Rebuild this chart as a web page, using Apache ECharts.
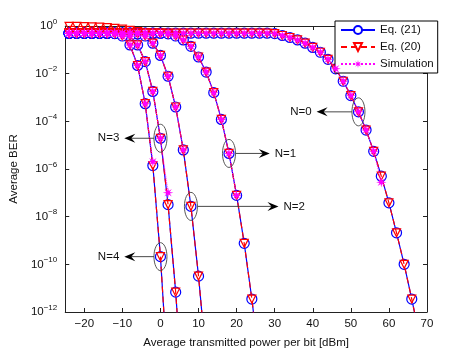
<!DOCTYPE html>
<html>
<head>
<meta charset="utf-8">
<script src="https://cdn.jsdelivr.net/npm/echarts@6/dist/echarts.min.js"></script>
<style>
  html, body { margin: 0; padding: 0; background: #fff; }
  #chart { width: 471px; height: 354px; }
</style>
</head>
<body>
<div id="chart"></div>
<script>
// Transmit power grids (dBm), one per curve
const powerN0 = [-24, -22, -20, -18, -16, -14, -12, -10, -8, -6, -4, -2, 0, 2, 4, 6, 8, 10, 12, 14, 16, 18, 20, 22, 24, 26, 28, 30, 32, 34, 36, 38, 40, 42, 44, 46, 48, 50, 52, 54, 56, 58, 60, 62, 64, 66, 68]
const powerN1 = [-24, -22, -20, -18, -16, -14, -12, -10, -8, -6, -4, -2, 0, 2, 4, 6, 8, 10, 12, 14, 16, 18, 20, 22, 24, 26]
const powerN2 = [-24, -22, -20, -18, -16, -14, -12, -10, -8, -6, -4, -2, 0, 2, 4, 6, 8, 10, 12]
const powerN3 = [-24, -22, -20, -18, -16, -14, -12, -10, -8, -6, -4, -2, 0, 2, 4, 6]
const powerN4 = [-24, -22, -20, -18, -16, -14, -12, -10, -8, -6, -4, -2, 0, 2]

// Eq. (21) BER values
const berN0 = [0.5, 0.5, 0.5, 0.5, 0.5, 0.5, 0.5, 0.5, 0.5, 0.5, 0.5, 0.5, 0.5, 0.5, 0.5, 0.5, 0.5, 0.5, 0.5, 0.5, 0.5, 0.5, 0.5, 0.5, 0.5, 0.5, 0.5,
    0.48, 0.40, 0.33, 0.26, 0.19, 0.126, 0.079, 0.04, 0.016, 4.8e-3, 1.2e-3, 2.5e-4, 4.3e-5, 5.5e-6, 5.0e-7, 3.8e-8, 2.1e-9, 1.0e-10, 3.5e-12, 1e-13]
const berN1 = [0.5, 0.5, 0.5, 0.5, 0.5, 0.5, 0.5, 0.5, 0.5, 0.5, 0.5, 0.5, 0.5,
    0.47, 0.38, 0.26, 0.14, 0.05, 0.0117, 1.6e-3, 1.2e-4, 4.5e-6, 7.8e-8, 7.6e-10, 3.5e-12, 8e-15]
const berN2 = [0.5, 0.5, 0.5, 0.5, 0.5, 0.5, 0.5, 0.5, 0.5,
    0.47, 0.38, 0.19, 0.058, 7.8e-3, 4.0e-4, 6.3e-6, 2.7e-8, 3.2e-11, 1e-14]
const berN3 = [0.5, 0.5, 0.5, 0.5, 0.5, 0.5, 0.5, 0.47, 0.38, 0.16, 0.032, 1.8e-3, 1.95e-5, 3.2e-8, 6.8e-12, 1.6e-16]
const berN4 = [0.5, 0.5, 0.5, 0.5, 0.5, 0.5, 0.48, 0.38, 0.16, 0.022, 5.5e-4, 1.4e-6, 2.1e-10, 1.3e-15]

// Eq. (20): same as Eq. (21) except the N=0 curve sits near 1 at low power
const eq20N0 = [0.97, 0.96, 0.94, 0.92, 0.89, 0.85, 0.8, 0.74, 0.66, 0.58, 0.52, 0.5, 0.5, 0.5, 0.5, 0.5, 0.5, 0.5, 0.5, 0.5, 0.5, 0.5, 0.5, 0.5, 0.5, 0.5, 0.5,
    0.48, 0.40, 0.33, 0.26, 0.19, 0.126, 0.079, 0.04, 0.016, 4.8e-3, 1.2e-3, 2.5e-4, 4.3e-5, 5.5e-6, 5.0e-7, 3.8e-8, 2.1e-9, 1.0e-10, 3.5e-12, 1e-13]

// Simulation (stops around 1e-7)
const simN0 = [0.5, 0.5, 0.5, 0.5, 0.5, 0.5, 0.5, 0.5, 0.5, 0.5, 0.5, 0.5, 0.5, 0.5, 0.5, 0.5, 0.5, 0.5, 0.5, 0.5, 0.5, 0.5, 0.5, 0.5, 0.5, 0.5, 0.5,
    0.48, 0.40, 0.33, 0.26, 0.19, 0.126, 0.079, 0.04, 0.016, 4.8e-3, 1.2e-3, 2.5e-4, 4.3e-5, 5.5e-6, 2.8e-7]
const simN1 = [0.5, 0.5, 0.5, 0.5, 0.5, 0.5, 0.5, 0.5, 0.5, 0.5, 0.5, 0.5, 0.5,
    0.47, 0.38, 0.26, 0.14, 0.05, 0.0117, 1.6e-3, 1.2e-4, 4.5e-6, 7.8e-8]
const simN2 = [0.5, 0.5, 0.5, 0.5, 0.5, 0.5, 0.5, 0.5, 0.5,
    0.47, 0.38, 0.19, 0.058, 7.8e-3, 4.0e-4, 6.3e-6]
const simN3 = [0.5, 0.5, 0.5, 0.5, 0.5, 0.5, 0.5, 0.47, 0.38, 0.16, 0.032, 1.8e-3, 1.95e-5, 1.0e-7]
const simN4 = [0.5, 0.5, 0.5, 0.5, 0.5, 0.5, 0.48, 0.38, 0.16, 0.022, 5.5e-4, 2.0e-6]

const xTicks = [-20, -10, 0, 10, 20, 30, 40, 50, 60, 70]
const yTicks = [1e-12, 1e-10, 1e-8, 1e-6, 1e-4, 1e-2, 1]

// Annotations: ellipse at (power, ber), arrow towards tipPower
const annotLabels = ['N=0', 'N=1', 'N=2', 'N=3', 'N=4']
const annotPower = [52, 18, 8, 0, 0]
const annotBer = [2.5e-4, 4.5e-6, 2.7e-8, 1.95e-5, 2.1e-10]
const annotTipPower = [41, 28.7, 31, -9.5, -9.5]

const FONT = 'Liberation Sans, Arial, sans-serif'
const STAR = 'path://M100 50 L66.6 56.9 L85.4 85.4 L56.9 66.6 L50 100 L43.1 66.6 L14.6 85.4 L33.4 56.9 L0 50 L33.4 43.1 L14.6 14.6 L43.1 33.4 L50 0 L56.9 33.4 L85.4 14.6 L66.6 43.1 Z'

const zip = (xs, ys) => ys.map((y, i) => [xs[i], y])

const curves = [
    { power: powerN0, eq21: berN0, eq20: eq20N0, sim: simN0 },
    { power: powerN1, eq21: berN1, eq20: berN1, sim: simN1 },
    { power: powerN2, eq21: berN2, eq20: berN2, sim: simN2 },
    { power: powerN3, eq21: berN3, eq20: berN3, sim: simN3 },
    { power: powerN4, eq21: berN4, eq20: berN4, sim: simN4 }
]

const series = []
curves.forEach(c => {
    series.push({
        name: 'Eq. (21)',
        type: 'line',
        data: zip(c.power, c.eq21),
        symbol: 'circle',
        symbolSize: 10,
        itemStyle: { color: '#fff', borderColor: '#0000ff', borderWidth: 1.2 },
        lineStyle: { color: '#0000ff', width: 1.2 },
        z: 2
    })
})
curves.forEach(c => {
    series.push({
        name: 'Eq. (20)',
        type: 'line',
        data: zip(c.power, c.eq20),
        symbol: 'triangle',
        symbolRotate: 180,
        symbolSize: 8,
        itemStyle: { color: 'rgba(255,255,255,0)', borderColor: '#ff0000', borderWidth: 1.2 },
        lineStyle: { color: '#ff0000', width: 1.2, type: [6, 4] },
        z: 3
    })
})
curves.forEach(c => {
    series.push({
        name: 'Simulation',
        type: 'line',
        data: zip(c.power, c.sim),
        symbol: STAR,
        symbolSize: 10.5,
        itemStyle: { color: '#ff00ff' },
        lineStyle: { color: '#ff00ff', width: 1, type: 'dotted' },
        z: 4
    })
})

const supLabel = value => {
    const e = Math.round(Math.log10(value))
    return '{b|10}{s|' + String(e).replace('-', '\u2212') + '}'
}

const chart = echarts.init(document.getElementById('chart'), null, { renderer: 'canvas' })

chart.setOption({
    animation: false,
    backgroundColor: '#fff',
    textStyle: { fontFamily: FONT },
    grid: { left: 61, right: 44, top: 26, bottom: 40 },
    legend: {
        data: ['Eq. (21)', 'Eq. (20)', 'Simulation'],
        orient: 'vertical',
        left: 335,
        top: 21,
        padding: [3, 4, 3, 5],
        itemWidth: 34,
        itemHeight: 10,
        itemGap: 5,
        backgroundColor: '#fff',
        borderColor: '#000',
        borderWidth: 1,
        textStyle: { fontSize: 11.5, color: '#111', fontFamily: FONT }
    },
    xAxis: [
        {
            type: 'value',
            min: -25,
            max: 70,
            name: 'Average transmitted power per bit [dBm]',
            nameLocation: 'middle',
            nameGap: 25,
            nameTextStyle: { fontSize: 11.5, color: '#111' },
            axisLine: { show: true, onZero: false, lineStyle: { color: '#222', width: 1 } },
            axisTick: { inside: true, length: 4, customValues: xTicks, lineStyle: { color: '#222' } },
            axisLabel: { customValues: xTicks, fontSize: 11.5, color: '#111', margin: 6,
                formatter: v => String(v).replace('-', '\u2212') },
            splitLine: { show: false }
        },
        {
            type: 'value',
            position: 'top',
            min: -25,
            max: 70,
            axisLine: { show: true, onZero: false, lineStyle: { color: '#222', width: 1 } },
            axisTick: { inside: true, length: 4, customValues: xTicks, lineStyle: { color: '#222' } },
            axisLabel: { show: false },
            splitLine: { show: false }
        }
    ],
    yAxis: [
        {
            type: 'log',
            logBase: 10,
            min: 1e-12,
            max: 1,
            name: 'Average BER',
            nameLocation: 'middle',
            nameGap: 43,
            nameTextStyle: { fontSize: 11.5, color: '#111' },
            axisLine: { show: true, onZero: false, lineStyle: { color: '#222', width: 1 } },
            axisTick: { inside: true, length: 4, customValues: yTicks, lineStyle: { color: '#222' } },
            minorTick: { show: false },
            axisLabel: {
                customValues: yTicks,
                margin: 8,
                formatter: supLabel,
                rich: {
                    b: { fontSize: 11.5, color: '#111', fontFamily: FONT },
                    s: { fontSize: 8, color: '#111', fontFamily: FONT, padding: [0, 0, 9, 0] }
                }
            },
            splitLine: { show: false }
        },
        {
            type: 'log',
            logBase: 10,
            min: 1e-12,
            max: 1,
            position: 'right',
            axisLine: { show: true, onZero: false, lineStyle: { color: '#222', width: 1 } },
            axisTick: { inside: true, length: 4, customValues: yTicks, lineStyle: { color: '#222' } },
            axisLabel: { show: false },
            splitLine: { show: false }
        }
    ],
    series: series
})

// Ellipses, arrows and N labels, placed through the axes
const graphics = []
annotLabels.forEach((label, i) => {
    const [cx, cy] = chart.convertToPixel({ xAxisIndex: 0, yAxisIndex: 0 }, [annotPower[i], annotBer[i]])
    const [tx] = chart.convertToPixel({ xAxisIndex: 0, yAxisIndex: 0 }, [annotTipPower[i], annotBer[i]])
    const rx = 6.5
    const dir = tx > cx ? 1 : -1
    const startX = cx + dir * rx
    graphics.push({
        type: 'ellipse',
        shape: { cx: cx, cy: cy, rx: rx, ry: 14 },
        style: { fill: 'none', stroke: '#444', lineWidth: 0.9 },
        z: 100
    })
    graphics.push({
        type: 'line',
        shape: { x1: startX, y1: cy, x2: tx - dir * 6, y2: cy },
        style: { stroke: '#333', lineWidth: 0.9 },
        z: 100
    })
    graphics.push({
        type: 'polygon',
        shape: { points: [[tx, cy], [tx - dir * 11, cy - 4.5], [tx - dir * 7, cy], [tx - dir * 11, cy + 4.5]] },
        style: { fill: '#000' },
        z: 100
    })
    graphics.push({
        type: 'text',
        x: tx + dir * 5,
        y: cy,
        style: {
            text: label,
            fontSize: 11.5,
            fontFamily: FONT,
            fill: '#111',
            align: dir > 0 ? 'left' : 'right',
            verticalAlign: 'middle'
        },
        z: 100
    })
})
chart.setOption({ graphic: graphics })
</script>
</body>
</html>
